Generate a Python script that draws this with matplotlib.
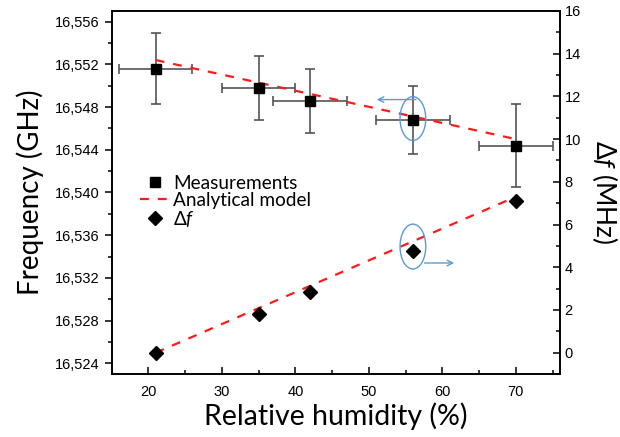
import matplotlib
matplotlib.use('Agg')
import matplotlib.pyplot as plt
from matplotlib.patches import Ellipse
from matplotlib.ticker import MultipleLocator, FuncFormatter

# Measured data
rel_humidity = [21, 35, 42, 56, 70]
freq_ghz = [16.5516, 16.5498, 16.5486, 16.5468, 16.5444]
freq_err = [0.0033, 0.0030, 0.0030, 0.0032, 0.0039]
rh_err = [5, 5, 5, 5, 5]
delta_f_mhz = [0.0, 1.8, 2.86, 4.77, 7.09]

# Analytical model (end points)
model_rh = [21, 70]
model_freq = [16.5524, 16.5450]
model_df = [0.0, 7.3]

plt.rcParams['font.family'] = ['Liberation Sans', 'DejaVu Sans']
plt.rcParams['mathtext.fontset'] = 'custom'
plt.rcParams['mathtext.rm'] = 'Lato'
plt.rcParams['mathtext.it'] = 'Lato:italic'
label_font = ['Lato', 'DejaVu Sans']

fig = plt.figure(figsize=(6.2, 4.37), dpi=100)
ax = fig.add_axes([0.180, 0.144, 0.723, 0.831])
ax2 = ax.twinx()

red = '#ff1a1a'
blue = '#5b9bd5'

# Frequency (left axis)
ax.errorbar(rel_humidity, freq_ghz, xerr=rh_err, yerr=freq_err, fmt='none',
            ecolor='#555555', elinewidth=1.2, capsize=3.5, capthick=1.2, zorder=2)
ax.plot(model_rh, model_freq, ls=(0, (4, 4)), color=red, lw=1.6, zorder=3)
h_meas, = ax.plot(rel_humidity, freq_ghz, 's', color='black', ms=7.5, zorder=4)

# Delta f (right axis)
ax2.plot(model_rh, model_df, ls=(0, (4, 4)), color=red, lw=1.6, zorder=3)
h_df, = ax2.plot(rel_humidity, delta_f_mhz, 'D', color='black', ms=7.5, zorder=4)
h_model, = ax.plot([], [], ls=(0, (4, 4)), color=red, lw=1.6)

# Axis limits and ticks
ax.set_xlim(15, 76)
ax.set_ylim(16.523, 16.557)
ax2.set_ylim(-1, 16)
ax.xaxis.set_major_locator(MultipleLocator(10))
ax.xaxis.set_minor_locator(MultipleLocator(5))
ax.yaxis.set_major_locator(MultipleLocator(0.004))
ax.yaxis.set_minor_locator(MultipleLocator(0.002))
ax2.yaxis.set_major_locator(MultipleLocator(2))
ax2.yaxis.set_minor_locator(MultipleLocator(1))
ax.yaxis.set_major_formatter(FuncFormatter(lambda v, p: ('%.3f' % v).replace('.', ',')))

ax.tick_params(axis='y', which='both', direction='out', labelsize=10.5, width=1.1)
ax.tick_params(axis='x', which='both', direction='in', labelsize=10.5, width=1.1, pad=8)
ax.tick_params(which='major', length=5)
ax.tick_params(which='minor', length=3)
ax2.tick_params(axis='y', which='both', direction='in', labelsize=10.5, width=1.1)
ax2.tick_params(which='major', length=5)
ax2.tick_params(which='minor', length=3)
for a in (ax, ax2):
    for s in a.spines.values():
        s.set_linewidth(1.2)

ax.set_xlabel('Relative humidity (%)', fontsize=20.5, family=label_font, labelpad=2)
ax.set_ylabel('Frequency (GHz)', fontsize=20, family=label_font, labelpad=8)
ax2.set_ylabel(r'$\Delta f$ (MHz)', fontsize=19, family=label_font, rotation=270, labelpad=28)

# Blue annotations
ax.add_patch(Ellipse((rel_humidity[3], freq_ghz[3] + 0.00012), 3.5, 0.0041,
                     fill=False, ec=blue, lw=1.0, zorder=5))
ax.annotate('', xy=(50.7, freq_ghz[3] + 0.0019), xytext=(rel_humidity[3] + 0.8, freq_ghz[3] + 0.0019),
            arrowprops=dict(arrowstyle='->', color=blue, lw=1.0))
ax2.add_patch(Ellipse((rel_humidity[3], delta_f_mhz[3] + 0.2), 3.5, 2.1,
                      fill=False, ec=blue, lw=1.0, zorder=5))
ax2.annotate('', xy=(62.0, delta_f_mhz[3] - 0.57), xytext=(rel_humidity[3] + 1.2, delta_f_mhz[3] - 0.57),
             arrowprops=dict(arrowstyle='->', color=blue, lw=1.0))

leg = ax.legend([h_meas, h_model, h_df], ['Measurements', 'Analytical model', r'$\Delta f$'],
                loc='upper left', bbox_to_anchor=(0.034, 0.585), frameon=False,
                prop={'family': label_font, 'size': 13.7}, handlelength=1.6,
                handletextpad=0.15, labelspacing=0.0, borderaxespad=0.3)

fig.savefig('out.png', dpi=100)
